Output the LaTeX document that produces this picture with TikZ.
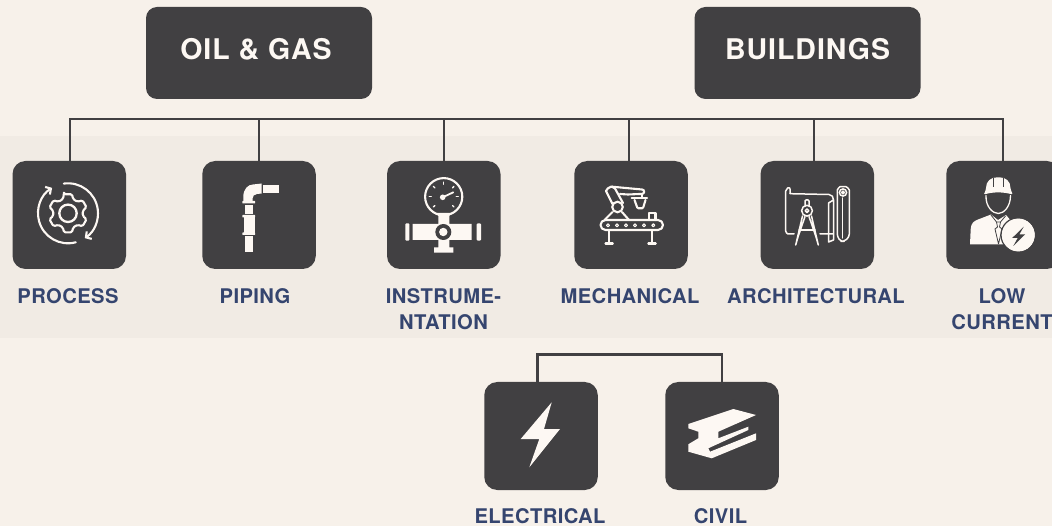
\documentclass[tikz,border=0pt]{standalone}
\usepackage{fontspec}
\usetikzlibrary{arrows.meta}
\setmainfont{TeX Gyre Heros}[LetterSpace=2]
\newfontfamily\headfont[LetterSpace=3.5]{TeX Gyre Heros}
\definecolor{pagebg}{HTML}{F7F1EA}
\definecolor{bandbg}{HTML}{F1EBE4}
\definecolor{boxdark}{HTML}{414042}
\definecolor{cream}{HTML}{FDF8F3}
\definecolor{labelblue}{HTML}{35456F}
\tikzset{
	headbox/.style={fill=boxdark,rounded corners=11pt,minimum width=226pt,minimum height=92pt},
	headlabel/.style={text=cream,font=\headfont\bfseries\fontsize{28.5}{30}\selectfont},
	iconbox/.style={fill=boxdark,rounded corners=13pt,minimum width=113.5pt,minimum height=108pt},
	itemlabel/.style={text=labelblue,font=\bfseries\fontsize{20.2}{25.5}\selectfont,align=center},
	busline/.style={draw=boxdark,line width=2.2pt},
	iconline/.style={draw=cream,line width=2.1pt,line join=round,line cap=round},
	iconfill/.style={fill=cream}
}
\begin{document}
\begin{tikzpicture}[x=1pt,y=-1pt]
	\useasboundingbox (0,0) rectangle (1052,526);
	\clip (0,0) rectangle (1052,526);
	\fill [pagebg] (0,0) rectangle (1052,526);
	\fill [bandbg] (0,136) rectangle (1052,338);

	\node [headbox] (oil) at (259,53) {};
	\node [headbox] (buildings) at (807.5,53) {};
	\node [headlabel] (oillabel) at (256,49.5) {OIL \& GAS};
	\node [headlabel] (buildingslabel) at (807.5,49.5) {BUILDINGS};

	\node [iconbox] (process) at (69.25,215) {};
	\node [iconbox] (piping) at (259,215) {};
	\node [iconbox] (instrument) at (443.75,215) {};
	\node [iconbox] (mechanical) at (631,215) {};
	\node [iconbox] (architectural) at (817.25,215) {};
	\node [iconbox] (lowcurrent) at (1003,215) {};
	\node [iconbox] (electrical) at (541,436) {};
	\node [iconbox] (civil) at (722,436) {};

	\node [itemlabel] (processlabel) at (68,296) {PROCESS};
	\node [itemlabel] (pipinglabel) at (255,296) {PIPING};
	\node [itemlabel] (instrumentlabel) at (443.5,309) {INSTRUME-\\NTATION};
	\node [itemlabel] (mechanicallabel) at (630,296) {MECHANICAL};
	\node [itemlabel] (architecturallabel) at (816,296) {ARCHITECTURAL};
	\node [itemlabel] (lowcurrentlabel) at (1002,309) {LOW\\CURRENT};
	\node [itemlabel] (electricallabel) at (540,516) {ELECTRICAL};
	\node [itemlabel] (civillabel) at (720.5,516) {CIVIL};

	% connectors
	\coordinate (bus) at (0,119);
	\coordinate (lowbus) at (0,354.5);
	\draw [busline] ([xshift=.75pt]process.north) |- (bus -| lowcurrent.north) -- (lowcurrent.north);
	\draw [busline] (piping.north) -- (piping.north |- bus);
	\draw [busline] (instrument.north) -- (instrument.north |- bus);
	\draw [busline] ([xshift=-2pt]mechanical.north) -- ([xshift=-2pt]mechanical.north |- bus);
	\draw [busline] ([xshift=-3pt]architectural.north) -- ([xshift=-3pt]architectural.north |- bus);
	\draw [busline] ([xshift=-3.5pt]electrical.north) |- (lowbus -| civil.north) -- (civil.north);

	% process
	\begin{scope}[shift={(68,213.3)}]
		\draw [iconline,-{Straight Barb[length=4pt,width=9pt]}] (262:30) arc [start angle=262,end angle=416,radius=30];
		\draw [iconline,-{Straight Barb[length=4pt,width=9pt]}] (75:30) arc [start angle=75,end angle=238,radius=30];
		\draw [iconline,rounded corners=1.5pt] (258:19.5) \foreach \a in {270,330,30,90,150,210} { -- (\a-12:19.5) -- (\a+12:19.5) -- (\a+20:15) -- (\a+40:15) } -- cycle;
		\draw [iconline,line width=2.3pt] (0,0) circle (8.7);
	\end{scope}

	% piping
	\fill [iconfill] (243.3,202) -- (243.3,197) .. controls (243.3,189) and (248,184.5) .. (253,184.5) -- (261.7,183.5) -- (261.7,193.5) -- (257,194) .. controls (254,194.5) and (252.7,196) .. (252.7,198) -- (252.7,202) -- cycle;
	\fill [iconfill] (262.7,185) rectangle (279,192.7);
	\fill [iconfill,rounded corners=.5pt] (242.3,201) rectangle (255,203.5);
	\fill [iconfill] (245,205) rectangle (253.3,214);
	\fill [iconfill,rounded corners=.5pt] (242.3,215) rectangle (255,217.5);
	\fill [iconfill] (243.5,217) rectangle (254.5,233);
	\fill [iconfill,rounded corners=.5pt] (242.3,232.5) rectangle (255,235);
	\fill [iconfill] (245,236) rectangle (253.3,251.7);

	% instrumentation
	\begin{scope}[shift={(443.7,196.7)}]
		\draw [iconline] (0,0) circle (18.6);
		\foreach \a in {0,45,135,180,225,270,315}
			\draw [iconline,line width=1.4pt] (\a:12.5) -- (\a:14.5);
		\fill [iconfill] (-1,.6) circle (2.8);
		\draw [iconline,line width=1.8pt] (-1,.6) -- (9.6,-4.4);
	\end{scope}
	\fill [iconfill] (436.5,213) -- (451,213) -- (449.3,216) -- (449.3,224) -- (471.7,224) -- (471.7,240) -- (449.3,240) -- (449.3,247.3) -- (453.3,247.3) -- (453.3,252.7) -- (434,252.7) -- (434,247.3) -- (438.3,247.3) -- (438.3,240) -- (412.7,240) -- (412.7,224) -- (438.3,224) -- (438.3,216) -- cycle;
	\fill [iconfill,rounded corners=1pt] (405.3,223.3) rectangle (409.3,240.7);
	\fill [iconfill,rounded corners=1pt] (476.7,223.3) rectangle (481,240.7);
	\fill [boxdark] (443.3,232) circle (8);
	\fill [iconfill] (443.3,232) circle (4.2);

	% mechanical
	\draw [iconline,rounded corners=5pt] (600.5,220) rectangle (663,230);
	\foreach \x in {608,617,626,635,644,653.3}
		\draw [iconline,line width=1.1pt] (\x,225.3) circle (1.5);
	\draw [iconline] (609,230) -- (609,243.3) (605.5,243.5) -- (612.8,243.5);
	\draw [iconline] (652,230) -- (652,243.3) (648.3,243.5) -- (655.7,243.5);
	\draw [iconline] (649,220) -- (649,213) -- (655.5,213) -- (655.5,220);
	\draw [iconline] (617.5,207) circle (5.3);
	\draw [iconline,rounded corners=2pt] (606,191) -- (609,186.7) -- (614,186.7) -- (623,203);
	\draw [iconline,rounded corners=2pt] (606,191) -- (612.5,204);
	\draw [iconline] (612,186.7) -- (642,189.5) arc [start angle=270,end angle=450,radius=2.2] -- (628,194.5) -- (620,194);
	\draw [iconline] (642,194) -- (642,198);
	\draw [iconline] (631.7,198.3) -- (647,198.3);
	\draw [iconline,rounded corners=1pt] (634.5,200) -- (637.5,208.3) -- (643,208.3) -- (645.5,200);
	\draw [iconline] (612.5,212) -- (604.5,220) (622,212) -- (629,220);

	% architectural
	\begin{scope}[iconline/.append style={line width=1.5pt}]
		\draw [iconline,rounded corners=2pt] (790,193.5) -- (790,187) -- (785.7,189) -- (785.7,229) .. controls (785.7,232) and (787,234) .. (790,234) -- (833.3,234);
		\draw [iconline] (790,193.7) -- (829,194.5) .. controls (832,194.7) and (833.5,197) .. (833.5,200) -- (833.5,240) -- (828.5,242) -- (828.5,203) -- (833.5,200);
		\draw [iconline,rounded corners=3pt] (837.3,193) .. controls (837.3,189) and (840,186.7) .. (843,186.7) .. controls (846.5,186.7) and (849.3,189) .. (849.3,193) -- (849.3,237) -- (844,241.5) -- (841,241.5) -- (837.3,237) -- cycle;
		\draw [iconline] (843,192.5) circle (1.3) (843,192.5) circle (3.6);
		\draw [iconline] (842.5,198) -- (842.5,238);
		\fill [boxdark] (801,201) rectangle (813,222);
		\fill [boxdark] (797,222) -- (817,222) -- (822,246) -- (792,246) -- cycle;
		\draw [iconline,rounded corners=1pt] (805,206) -- (805,200) -- (809,200) -- (809,206);
		\draw [iconline] (807,210.7) circle (5.4) (807,210.7) circle (1.8);
		\draw [iconline] (802.5,216) -- (795.7,245) -- (798,237) -- (805,216.5);
		\draw [iconline] (811.5,216) -- (818.3,245) -- (816,237) -- (809,216.5);
		\draw [iconline] (799,230) -- (815,230);
	\end{scope}

	% low current
	\fill [iconfill,rounded corners=1pt] (984,194.5) -- (986,189) .. controls (986,181) and (991,177.3) .. (998.3,177.3) .. controls (1005.5,177.3) and (1010.5,181) .. (1010.5,189) -- (1012.7,194.5) .. controls (1003,191.8) and (993,191.8) .. (984,194.5) -- cycle;
	\draw [boxdark,line width=1pt] (993.3,178) -- (993.3,187) (1003,178) -- (1003,187);
	\draw [iconline,line width=1.3pt] (986,195.5) .. controls (985.5,207) and (993,213.5) .. (998.3,213.5) .. controls (1003.5,213.5) and (1010.5,207) .. (1010.5,195.5);
	\fill [iconfill] (970,244.5) -- (970.7,229) .. controls (971,223) and (974,221) .. (978,219.5) -- (991,214.5) -- (998,220) -- (1006,215) -- (1012,222) -- (1004,244.5) -- cycle;
	\draw [boxdark,line width=.8pt] (991,215) -- (996.5,222) -- (1000.5,222) -- (1005.5,216);
	\draw [boxdark,line width=.8pt] (996.5,222) -- (997.5,227) -- (995,229) -- (998.5,244) (1000.5,222) -- (999.5,227) -- (1002,229) -- (998.5,244);
	\fill [iconfill] (1018.3,235) circle (16.7);
	\draw [boxdark,line width=1.2pt] (1018.3,235) circle (17.3);
	\fill [boxdark] (1023.7,226.7) -- (1012.2,238) -- (1017.7,238) -- (1013.3,246) -- (1025,234.5) -- (1019.3,234.5) -- cycle;

	% electrical
	\fill [iconfill] (551.7,402.3) -- (520.7,439) -- (539.3,439) -- (529.3,467.3) -- (560,429) -- (544,429) -- cycle;

	% civil
	\fill [iconfill] (688.3,424) -- (733.3,409) -- (756,415) -- (718.3,431.7) -- (718.3,438.3) -- (748.3,426.7) -- (748.3,430) -- (708.3,448.3) -- (710,451.7) -- (756,433.3) -- (756,440) -- (711.7,458.3) -- (688.3,451.7) -- (688.3,444.3) -- (698.3,438.3) -- (698.3,431.7) -- (688.3,428.3) -- cycle;
\end{tikzpicture}
\end{document}
